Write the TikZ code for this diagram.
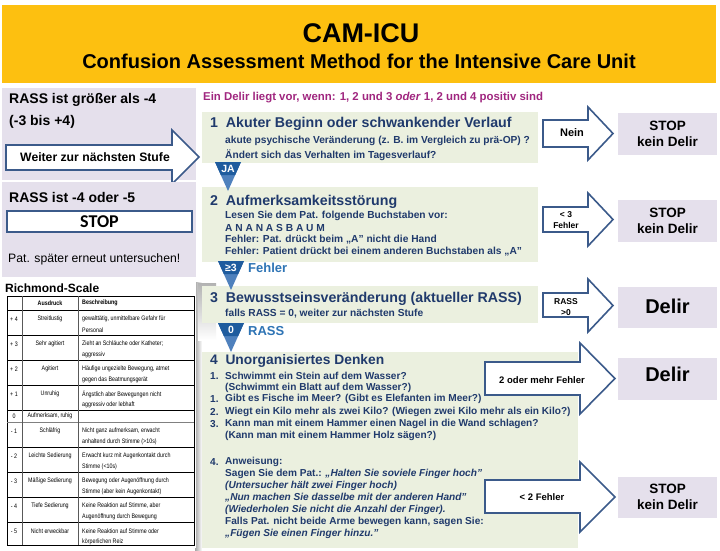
\documentclass[tikz,border=0pt]{standalone}
\usepackage{fontspec}
\setmainfont{Liberation Sans}
\newfontfamily\tabfont[FakeStretch=0.82]{Liberation Sans}
\newfontfamily\calfont{Carlito}
\usetikzlibrary{calc}
\definecolor{hdr}{HTML}{FDC010}
\definecolor{lav}{HTML}{E5E0EC}
\definecolor{grn}{HTML}{EBF0DF}
\definecolor{navy}{HTML}{203A6C}
\definecolor{abord}{HTML}{3B5A8A}
\definecolor{mag}{HTML}{A0267F}
\definecolor{tri}{HTML}{4F81BD}
\definecolor{band}{HTML}{1F5C9E}
\definecolor{lblue}{HTML}{2E74B5}
\newcommand\fs[1]{\fontsize{#1}{#1}\selectfont}
\newcommand\blkarrow[7]{\draw[arrowshape] (#1,#4) -- (#2,#4) -- (#2,#6) -- (#3,{(#6+#7)/2}) -- (#2,#7) -- (#2,#5) -- (#1,#5) -- cycle;}
\newcommand\indic[4]{%
 \fill[tri] (#2-13,#3) -- (#2+13,#3) -- (#2,#3+29) -- cycle;
 \fill[band] (#2-13,#3) -- (#2+13,#3) -- ({#2+13*16/29},#3+13) -- ({#2-13*16/29},#3+13) -- cycle;
 \node[font=\bfseries\fs{10.5}, text=white, inner sep=0] (#1) at (#2,#3+6.5) {#4};}
\newcommand\rrow[6]{%
 \node[tabt] (#1n) at (14,#2+9) {#3};
 \node[tabt] (#1a) at (50,#2+9) {#4};
 \node[tabt, anchor=west] (#1b) at (82,#2+9) {#5};
 \node[tabt, anchor=west] (#1c) at (82,#2+20) {#6};}
\tikzset{
 arrowshape/.style={draw=abord, fill=white, line width=1.6pt, line join=miter},
 lt/.style={inner sep=0, anchor=west},
 gt/.style={inner sep=0, anchor=west, text=navy, font=\bfseries\fs{10.2}},
 gq/.style={inner sep=0, anchor=west, text=navy, font=\bfseries\fs{10.1}},
 gqi/.style={inner sep=0, anchor=west, text=navy, font=\bfseries\itshape\fs{10.1}},
 gtitle/.style={inner sep=0, anchor=west, text=navy, font=\bfseries\fs{14.2}},
 outc/.style={inner sep=0, align=center, font=\bfseries\fs{13.5}, text=black},
 tabt/.style={inner sep=0, font=\tabfont\fs{6.5}},
}
\begin{document}
\begin{tikzpicture}[x=1pt,y=-1pt]
\useasboundingbox (0,0) rectangle (720,550);
\fill[white] (0,0) rectangle (720,550);
% header
\fill[hdr] (2,5) rectangle (716,83);
\node[font=\bfseries\fs{27}, inner sep=0] (title) at (361,33) {CAM-ICU};
\node[font=\bfseries\fs{20}, inner sep=0] (subtitle) at (359,61) {Confusion Assessment Method for the Intensive Care Unit};
% left panels
\fill[lav] (2,88) rectangle (196,180);
\node[lt, font=\bfseries\fs{14}] (l1a) at (9,100) {RASS ist größer als -4};
\node[lt, font=\bfseries\fs{14}] (l1b) at (9,122) {(-3 bis +4)};
\blkarrow{6}{172}{199}{145}{170}{130}{184}
\node[font=\bfseries\fs{12.2}, inner sep=0] (weiter) at (95,157) {Weiter zur nächsten Stufe};
\fill[lav] (2,182) rectangle (196,277);
\node[lt, font=\bfseries\fs{14}] (l2a) at (9,197) {RASS ist -4 oder -5};
\draw[draw=abord, fill=white, line width=1.4pt] (7,211) rectangle (192,232);
\node[font=\calfont\bfseries\fs{18}, inner sep=0] (stop0) at (99.5,222) {STOP};
\node[lt, font=\fs{12.2}] (l2c) at (8,259) {Pat. später erneut untersuchen!};
% Richmond panel
\shade[left color=gray!70, right color=white] (195,282) rectangle (202,550);
\shade[top color=gray!60, bottom color=white] (198,283) rectangle (216,340);
\fill[white] (2,280) rectangle (196,548);
\node[lt, font=\bfseries\fs{12}] (rs) at (5,288) {Richmond-Scale};
\draw[line width=0.5pt] (7,296) rectangle (194,545);
\foreach \yy in {310,335,360,385,410,447,472,497,522} \draw[line width=0.8pt] (7,\yy) -- (194,\yy);
\draw[line width=0.4pt, gray] (7,422) -- (194,422);
\draw[line width=0.3pt, gray!70!black] (22,296) -- (22,545) (78,296) -- (78,545);
\node[tabt, font=\tabfont\bfseries\fs{6.5}] (hA) at (50,303) {Ausdruck};
\node[tabt, font=\tabfont\bfseries\fs{6.5}, anchor=west] (hB) at (82,303) {Beschreibung};
\rrow{r1}{310}{+ 4}{Streitlustig}{gewalttätig, unmittelbare Gefahr für}{Personal}
\rrow{r2}{335}{+ 3}{Sehr agitiert}{Zieht an Schläuche oder Katheter;}{aggressiv}
\rrow{r3}{360}{+ 2}{Agitiert}{Häufige ungezielte Bewegung, atmet}{gegen das Beatmungsgerät}
\rrow{r4}{385}{+ 1}{Unruhig}{Ängstlich aber Bewegungen nicht}{aggressiv oder lebhaft}
\node[tabt] (r5n) at (14,416) {0};
\node[tabt] (r5a) at (50,416) {Aufmerksam, ruhig};
\rrow{r6}{422}{- 1}{Schläfrig}{Nicht ganz aufmerksam, erwacht}{anhaltend durch Stimme (>10s)}
\rrow{r7}{447}{- 2}{Leichte Sedierung}{Erwacht kurz mit Augenkontakt durch}{Stimme (<10s)}
\rrow{r8}{472}{- 3}{Mäßige Sedierung}{Bewegung oder Augenöffnung durch}{Stimme (aber kein Augenkontakt)}
\rrow{r9}{497}{- 4}{Tiefe Sedierung}{Keine Reaktion auf Stimme, aber}{Augenöffnung durch Bewegung}
\rrow{r10}{522}{- 5}{Nicht erweckbar}{Keine Reaktion auf Stimme oder}{körperlichen Reiz}
% middle
\node[lt, text=mag, font=\bfseries\fs{11.4}] (intro) at (203,98) {Ein Delir liegt vor, wenn: 1, 2 und 3 \textit{oder} 1, 2 und 4 positiv sind};
\fill[grn] (202,112) rectangle (538,163);
\node[gtitle] (s1) at (210,124) {1\ \ Akuter Beginn oder schwankender Verlauf};
\node[gt] (s1a) at (225,141) {akute psychische Veränderung (z. B. im Vergleich zu prä-OP) ?};
\node[gt] (s1b) at (225,155) {Ändert sich das Verhalten im Tagesverlauf?};
\fill[grn] (202,187) rectangle (538,262);
\node[gtitle] (s2) at (210,202) {2\ \ Aufmerksamkeitsstörung};
\node[gt] (s2a) at (225,216) {Lesen Sie dem Pat. folgende Buchstaben vor:};
\node[gt] (s2b) at (225,228) {A N A N A S B A U M};
\node[gt] (s2c) at (225,240) {Fehler: Pat. drückt beim „A” nicht die Hand};
\node[gt] (s2d) at (225,252) {Fehler: Patient drückt bei einem anderen Buchstaben als „A”};
\fill[grn] (202,286) rectangle (538,323);
\node[gtitle] (s3) at (210,299) {3\ \ Bewusstseinsveränderung (aktueller RASS)};
\node[gt] (s3a) at (225,314) {falls RASS = 0, weiter zur nächsten Stufe};
\fill[grn] (202,352) rectangle (578,548);
\node[gtitle, font=\bfseries\fs{13.8}] (s4) at (210,361) {4\ \ Unorganisiertes Denken};
\node[gq] (q1n) at (210,376) {1.};
\node[gq] (q1) at (225,376) {Schwimmt ein Stein auf dem Wasser?};
\node[gq] (q1b) at (225,388) {(Schwimmt ein Blatt auf dem Wasser?)};
\node[gq] (q2n) at (210,399) {1.};
\node[gq] (q2) at (225,399) {Gibt es Fische im Meer? (Gibt es Elefanten im Meer?)};
\node[gq] (q3n) at (210,412) {2.};
\node[gq] (q3) at (225,412) {Wiegt ein Kilo mehr als zwei Kilo? (Wiegen zwei Kilo mehr als ein Kilo?)};
\node[gq] (q4n) at (210,424) {3.};
\node[gq] (q4) at (225,424) {Kann man mit einem Hammer einen Nagel in die Wand schlagen?};
\node[gq] (q4b) at (225,436) {(Kann man mit einem Hammer Holz sägen?)};
\node[gq] (q5n) at (210,462) {4.};
\node[gq] (q5) at (225,462) {Anweisung:};
\node[gq] (q5a) at (225,474) {Sagen Sie dem Pat.: \textit{„Halten Sie soviele Finger hoch”}};
\node[gqi] (q5b) at (225,486) {(Untersucher hält zwei Finger hoch)};
\node[gqi] (q5c) at (225,498) {„Nun machen Sie dasselbe mit der anderen Hand”};
\node[gqi] (q5d) at (225,510) {(Wiederholen Sie nicht die Anzahl der Finger).};
\node[gq] (q5e) at (225,522) {Falls Pat. nicht beide Arme bewegen kann, sagen Sie:};
\node[gqi] (q5f) at (225,534) {„Fügen Sie einen Finger hinzu.”};
% outcome boxes
\fill[lav] (618,113) rectangle (717,155);
\node[outc] (o1) at (667.5,134) {STOP\\[3pt]kein Delir};
\fill[lav] (618,200) rectangle (717,242);
\node[outc] (o2) at (667.5,221) {STOP\\[3pt]kein Delir};
\fill[lav] (618,287) rectangle (717,328);
\node[outc, font=\bfseries\fs{20}] (o3) at (667.5,306) {Delir};
\fill[lav] (618,358) rectangle (717,400);
\node[outc, font=\bfseries\fs{20}] (o4) at (667.5,374) {Delir};
\fill[lav] (618,477) rectangle (717,518);
\node[outc] (o5) at (667.5,497) {STOP\\[3pt]kein Delir};
% block arrows
\blkarrow{543}{588}{613}{120}{147}{107}{160}
\node[font=\bfseries\fs{11}, inner sep=0] (nein) at (572,133) {Nein};
\blkarrow{543}{588}{613}{207}{232}{193}{246}
\node[font=\bfseries\fs{8.5}, inner sep=0, align=center] (f3) at (566,220) {< 3\\[2pt]Fehler};
\blkarrow{543}{588}{613}{293}{317}{279}{332}
\node[font=\bfseries\fs{8.5}, inner sep=0, align=center] (r0) at (566,307) {RASS\\[2pt]>0};
\blkarrow{485}{580}{615}{362}{395}{343}{414}
\node[font=\bfseries\fs{9.5}, inner sep=0] (f2m) at (542,380) {2 oder mehr Fehler};
\blkarrow{485}{580}{615}{480}{513}{462}{532}
\node[font=\bfseries\fs{9.5}, inner sep=0] (f2l) at (542,497) {< 2 Fehler};
% indicators
\indic{ja}{228}{162}{JA}
\indic{ge}{231}{261}{≥3}
\node[lt, text=lblue, font=\bfseries\fs{13}] (fehler) at (248,268) {Fehler};
\indic{zero}{231}{323}{0}
\node[lt, text=lblue, font=\bfseries\fs{13}] (rass) at (248,331) {RASS};
\end{tikzpicture}
\end{document}
